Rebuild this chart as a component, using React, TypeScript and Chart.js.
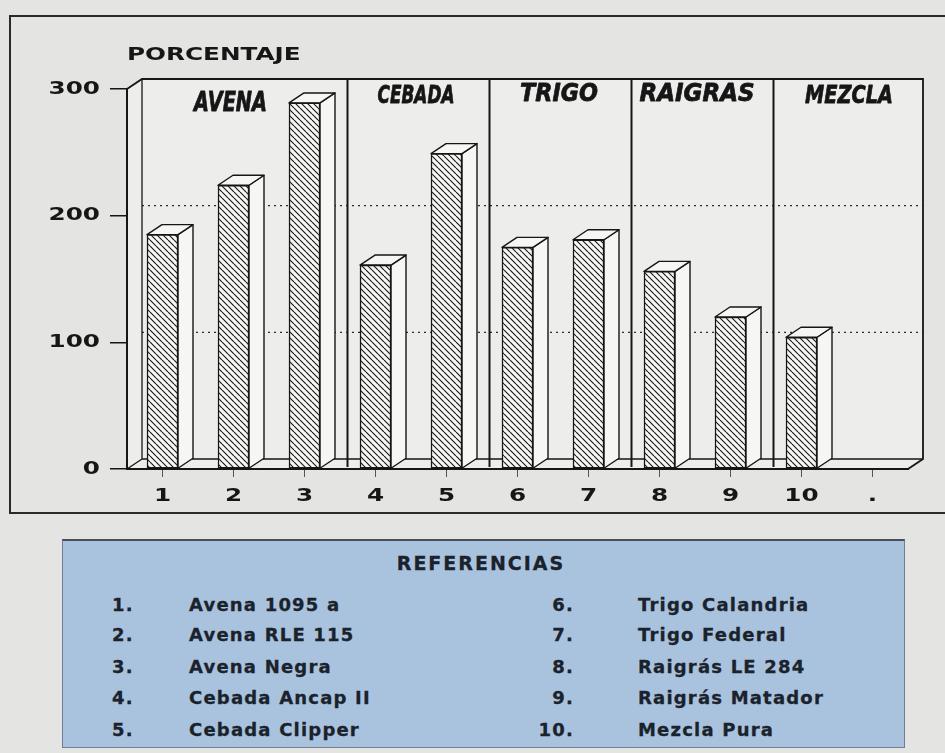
import React, { useEffect, useRef } from "react";
import { Chart, registerables } from "chart.js";

Chart.register(...registerables);

// ---------- data ----------
const CATEGORIES = ["1", "2", "3", "4", "5", "6", "7", "8", "9", "10", "."];
const PERCENTAGES: (number | null)[] = [185, 224, 289, 161, 249, 175, 181, 156, 120, 104, null];
const Y_MIN = 0;
const Y_MAX = 300;
const Y_STEP = 100;
const AXIS_TITLE = "PORCENTAJE";
const GROUP_NAMES = ["AVENA", "CEBADA", "TRIGO", "RAIGRAS", "MEZCLA"];
const GROUP_FIRST = [0, 3, 5, 7, 9];
const GROUP_LAST = [2, 4, 6, 8, 10];
const LEGEND_TITLE = "REFERENCIAS";
const LEGEND_NUMBERS = ["1.", "2.", "3.", "4.", "5.", "6.", "7.", "8.", "9.", "10."];
const LEGEND_NAMES = [
  "Avena 1095 a",
  "Avena RLE 115",
  "Avena Negra",
  "Cebada Ancap II",
  "Cebada Clipper",
  "Trigo Calandria",
  "Trigo Federal",
  "Raigrás LE 284",
  "Raigrás Matador",
  "Mezcla Pura",
];

// ---------- styles ----------
const DX = 15;
const DY = -10;
const STRETCH = 1.37;
const INK = "#161616";
const WALL = "#ededeb";
const FACE = "#f6f6f4";
const AXIS_FONT = 'bold 18px "DejaVu Sans"';
const GROUP_LABEL_STYLE = [
  { w: 73, dx: -3, dy: 15, size: 26 },
  { w: 77, dx: 5, dy: 7, size: 25 },
  { w: 78, dx: 6, dy: 5, size: 25 },
  { w: 115, dx: 2, dy: 5, size: 25 },
  { w: 88, dx: 12, dy: 7, size: 25 },
];

function makeHatch(): CanvasPattern | string {
  const c = document.createElement("canvas");
  c.width = 6;
  c.height = 6;
  const g = c.getContext("2d");
  if (!g) return FACE;
  g.fillStyle = FACE;
  g.fillRect(0, 0, 6, 6);
  g.strokeStyle = "#1a1a1a";
  g.lineWidth = 1.15;
  g.beginPath();
  for (const o of [-6, 0, 6]) {
    g.moveTo(o, 0);
    g.lineTo(o + 6, 6);
  }
  g.stroke();
  return g.createPattern(c, "repeat") || FACE;
}

function stretchedText(
  ctx: CanvasRenderingContext2D,
  text: string,
  x: number,
  y: number,
  align: CanvasTextAlign,
  font: string,
  sx: number,
  strokeW = 0
) {
  ctx.save();
  ctx.font = font;
  ctx.fillStyle = INK;
  ctx.textBaseline = "middle";
  ctx.textAlign = align;
  ctx.translate(x, y);
  ctx.scale(sx, 1);
  ctx.fillText(text, 0, 0);
  if (strokeW > 0) {
    ctx.strokeStyle = INK;
    ctx.lineWidth = strokeW;
    ctx.lineJoin = "round";
    ctx.strokeText(text, 0, 0);
  }
  ctx.restore();
}

const frame3d = {
  id: "frame3d",
  beforeDraw(chart: any) {
    const { ctx, chartArea } = chart;
    const { left, right, top, bottom } = chartArea;
    ctx.save();
    ctx.strokeStyle = "#2a2a2a";
    ctx.lineWidth = 2;
    ctx.strokeRect(10, 16, 980, 497);
    ctx.fillStyle = WALL;
    ctx.fillRect(left + DX, top + DY, right - left, bottom - top);
    ctx.beginPath();
    ctx.moveTo(left, top);
    ctx.lineTo(left + DX, top + DY);
    ctx.lineTo(left + DX, bottom + DY);
    ctx.lineTo(left, bottom);
    ctx.closePath();
    ctx.fill();
    ctx.beginPath();
    ctx.moveTo(left, bottom);
    ctx.lineTo(left + DX, bottom + DY);
    ctx.lineTo(right + DX, bottom + DY);
    ctx.lineTo(right, bottom);
    ctx.closePath();
    ctx.fill();
    ctx.restore();
  },
  beforeDatasetsDraw(chart: any) {
    const { ctx, chartArea, scales } = chart;
    const { left, right, top, bottom } = chartArea;
    const xs = scales.x;
    const ys = scales.y;
    ctx.save();

    // dotted gridlines on the back wall
    ctx.strokeStyle = "#2a2a2a";
    ctx.lineWidth = 1.3;
    ctx.setLineDash([2, 4]);
    ys.ticks.forEach((t: any) => {
      if (t.value <= Y_MIN || t.value >= Y_MAX) return;
      const py = ys.getPixelForValue(t.value) + DY;
      ctx.beginPath();
      ctx.moveTo(left + DX, py);
      ctx.lineTo(right + DX, py);
      ctx.stroke();
    });
    ctx.setLineDash([]);

    // frame lines
    ctx.strokeStyle = INK;
    ctx.lineWidth = 1.8;
    ctx.beginPath();
    ctx.moveTo(left, top);
    ctx.lineTo(left + DX, top + DY);
    ctx.lineTo(right + DX, top + DY);
    ctx.lineTo(right + DX, bottom + DY);
    ctx.lineTo(right, bottom);
    ctx.stroke();
    ctx.lineWidth = 1.3;
    ctx.beginPath();
    ctx.moveTo(left + DX, top + DY);
    ctx.lineTo(left + DX, bottom + DY);
    ctx.lineTo(right + DX, bottom + DY);
    ctx.moveTo(left, bottom);
    ctx.lineTo(left + DX, bottom + DY);
    ctx.stroke();

    // group dividers
    const half = (xs.getPixelForValue(1) - xs.getPixelForValue(0)) / 2;
    ctx.lineWidth = 2;
    for (let g = 0; g < GROUP_LAST.length - 1; g++) {
      const bx = xs.getPixelForValue(GROUP_LAST[g]) + half + DX / 2;
      ctx.beginPath();
      ctx.moveTo(bx, top + DY);
      ctx.lineTo(bx, bottom - 2);
      ctx.stroke();
    }

    // group labels
    GROUP_NAMES.forEach((name, g) => {
      const st = GROUP_LABEL_STYLE[g];
      const x0 = xs.getPixelForValue(GROUP_FIRST[g]) - half;
      const x1 = xs.getPixelForValue(GROUP_LAST[g]) + half;
      const cx = (x0 + x1) / 2 + st.dx;
      const cy = top + st.dy;
      const font = `italic bold ${st.size}px "DejaVu Sans"`;
      ctx.font = font;
      const w = ctx.measureText(name).width;
      stretchedText(ctx, name, cx, cy, "center", font, st.w / w, 0.8);
    });

    // bar side and top faces
    const meta = chart.getDatasetMeta(0);
    ctx.fillStyle = FACE;
    ctx.strokeStyle = INK;
    ctx.lineWidth = 1.4;
    ctx.lineJoin = "round";
    meta.data.forEach((bar: any, i: number) => {
      if (PERCENTAGES[i] == null) return;
      const p = bar.getProps(["x", "y", "base", "width"], true);
      const l = p.x - p.width / 2;
      const r = p.x + p.width / 2;
      ctx.beginPath();
      ctx.moveTo(r, p.y);
      ctx.lineTo(r + DX, p.y + DY);
      ctx.lineTo(r + DX, p.base + DY);
      ctx.lineTo(r, p.base);
      ctx.closePath();
      ctx.fill();
      ctx.stroke();
      ctx.beginPath();
      ctx.moveTo(l, p.y);
      ctx.lineTo(l + DX, p.y + DY);
      ctx.lineTo(r + DX, p.y + DY);
      ctx.lineTo(r, p.y);
      ctx.closePath();
      ctx.fill();
      ctx.stroke();
    });
    ctx.restore();
  },
  afterDraw(chart: any) {
    const { ctx, chartArea, scales } = chart;
    const xs = scales.x;
    const ys = scales.y;
    ys.ticks.forEach((t: any, i: number) => {
      stretchedText(ctx, String(t.value), chartArea.left - 27, ys.getPixelForTick(i), "right", AXIS_FONT, STRETCH);
    });
    xs.ticks.forEach((t: any, i: number) => {
      const label = chart.data.labels[i];
      stretchedText(ctx, String(label), xs.getPixelForTick(i), chartArea.bottom + 27, "center", AXIS_FONT, STRETCH);
    });
    stretchedText(ctx, AXIS_TITLE, chartArea.left, 55, "left", AXIS_FONT, STRETCH);
  },
};

export default function App() {
  const ref = useRef<HTMLCanvasElement | null>(null);

  useEffect(() => {
    if (!ref.current) return;
    const hatch = makeHatch();
    const chart = new Chart(ref.current, {
      type: "bar",
      data: {
        labels: CATEGORIES,
        datasets: [
          {
            data: PERCENTAGES as any,
            backgroundColor: hatch as any,
            borderColor: INK,
            borderWidth: 1.5,
            borderSkipped: false,
            barThickness: 31,
          },
        ],
      },
      options: {
        responsive: false,
        animation: false,
        devicePixelRatio: 1,
        layout: { padding: { left: 10, right: 37, top: 89, bottom: 11 } },
        plugins: {
          legend: { display: false },
          tooltip: { enabled: false },
          title: { display: false },
        },
        scales: {
          x: {
            type: "category",
            offset: true,
            grid: {
              offset: false,
              drawOnChartArea: false,
              drawTicks: true,
              tickLength: 8,
              color: "#555",
              lineWidth: 1,
            },
            border: { display: true, color: INK, width: 2 },
            ticks: { color: "rgba(0,0,0,0)", padding: 11, font: { size: 16 } },
            afterFit: (s: any) => {
              s.height = 40;
            },
          },
          y: {
            min: Y_MIN,
            max: Y_MAX,
            ticks: { stepSize: Y_STEP, color: "rgba(0,0,0,0)", padding: 10, font: { size: 16 } },
            grid: { drawOnChartArea: false, tickLength: 17, color: INK, lineWidth: 1.5 },
            border: { display: true, color: INK, width: 2 },
            afterFit: (s: any) => {
              s.width = 117;
            },
          },
        },
      },
      plugins: [frame3d],
    });
    return () => chart.destroy();
  }, []);

  const legendText: React.CSSProperties = {
    position: "absolute",
    fontFamily: '"DejaVu Sans", sans-serif',
    fontWeight: "bold",
    fontSize: 18,
    lineHeight: "22px",
    letterSpacing: "1.2px",
    color: "#1a222c",
    whiteSpace: "nowrap",
    WebkitTextStroke: "0.3px #1a222c",
  };
  const rowCenters = [605, 635, 667, 698, 730];

  return (
    <div
      style={{
        position: "fixed",
        left: 0,
        top: 0,
        width: 945,
        height: 753,
        background: "#e4e4e2",
        overflow: "hidden",
      }}
    >
      <canvas ref={ref} width={945} height={520} style={{ position: "absolute", left: 0, top: 0 }} />
      <div
        style={{
          position: "absolute",
          left: 62,
          top: 539,
          width: 843,
          height: 209,
          background: "#a9c3de",
          borderTop: "2px solid #4a4f57",
          borderLeft: "1px solid #6d7f93",
          borderRight: "1px solid #6d7f93",
          borderBottom: "1px solid #6d7f93",
          boxSizing: "border-box",
        }}
      />
      <div
        style={{
          ...legendText,
          left: 331,
          width: 300,
          top: 552,
          textAlign: "center",
          fontSize: 19,
          letterSpacing: "2px",
        }}
      >
        {LEGEND_TITLE}
      </div>
      {LEGEND_NAMES.map((name, i) => {
        const col = i < 5 ? 0 : 1;
        const top = rowCenters[i % 5] - 11;
        return (
          <React.Fragment key={i}>
            {col === 0 ? (
              <div style={{ ...legendText, left: 112, top }}>{LEGEND_NUMBERS[i]}</div>
            ) : (
              <div style={{ ...legendText, left: 492, width: 82, top, textAlign: "right" }}>
                {LEGEND_NUMBERS[i]}
              </div>
            )}
            <div style={{ ...legendText, left: col === 0 ? 189 : 638, top }}>{name}</div>
          </React.Fragment>
        );
      })}
    </div>
  );
}
